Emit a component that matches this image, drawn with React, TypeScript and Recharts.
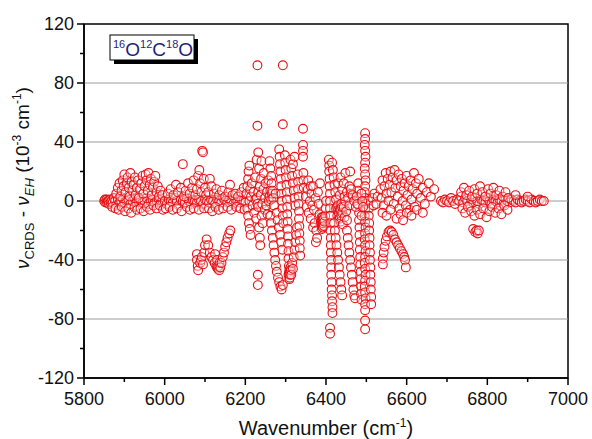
import {
  ReferenceArea,
  ReferenceLine,
  Scatter,
  ScatterChart,
  XAxis,
  YAxis,
} from "recharts";

// 16O12C18O: CRDS minus EH line positions, in 1e-3 cm-1.
// Each cluster is a list of [wavenumber, deviation] pairs.

const BAND_5850: [number, number][] = [
  [5850, 0], [5852, 1], [5853, -1], [5856, 1], [5857, -1], [5859, 0], [5861, 0], [5862, -2],
  [5865, 1], [5866, -1], [5868, 0], [5871, -1],
  [5874, 2], [5877, 0], [5880, -3], [5884, 1], [5888, -1], [5892, 0], [5896, 2], [5900, -1],
  [5905, 0], [5910, 1], [5915, -2], [5920, 0], [5925, 2], [5930, -1], [5935, 0], [5940, 1],
  [5945, -1], [5950, 0], [5955, 2], [5960, -2], [5965, 0], [5970, 1], [5975, -1], [5980, 0],
  [5985, 1], [5990, -1], [5995, 0],
  [5880, 5], [5884, 9], [5888, 12], [5890, 3], [5893, 7], [5896, 14], [5898, 10], [5900, 18],
  [5903, 6], [5906, 12], [5908, 16], [5911, 9], [5913, 3], [5915, 19], [5918, 13], [5920, 7],
  [5923, 11], [5926, 16], [5928, 4], [5931, 9], [5934, 14], [5936, 2], [5939, 8], [5942, 12],
  [5945, 17], [5947, 5], [5950, 10], [5953, 18], [5955, 14], [5958, 7], [5960, 19], [5963, 11],
  [5966, 15], [5968, 4], [5971, 9], [5974, 13], [5977, 17], [5980, 6], [5983, 10], [5986, 3],
  [5990, 7], [5994, 4],
  [5870, -4], [5878, -5], [5886, -6], [5894, -4], [5902, -7], [5910, -5], [5917, -8], [5925, -4],
  [5932, -6], [5940, -5], [5948, -7], [5956, -4], [5964, -6], [5972, -3], [5980, -5], [5988, -3],
  [5996, -6],
];

const BAND_6000: [number, number][] = [
  [6000, 0], [6005, -2], [6010, 1], [6015, 0], [6020, -1], [6025, 2], [6030, 0], [6035, -3],
  [6040, 1], [6045, 0], [6050, -1], [6055, 2], [6060, 0], [6065, -2], [6070, 1], [6075, 0],
  [6080, -1], [6085, 1], [6090, 0], [6095, -2], [6100, 1],
  [6008, 5], [6015, 8], [6022, 4], [6028, 11], [6033, 6], [6040, 9], [6045, 25], [6048, 3],
  [6052, 7], [6058, 12], [6062, 5], [6068, 9], [6072, 14], [6076, 4], [6080, 8], [6083, 17],
  [6086, 21], [6088, 12], [6091, 6], [6093, 34], [6095, 33], [6097, 15], [6100, 9], [6103, 4],
  [6003, -5], [6012, -4], [6020, -6], [6030, -5], [6042, -7], [6055, -4], [6063, -6], [6072, -5],
  [6085, -6], [6098, -5],
];

const N_SHAPE_6100: [number, number][] = [
  [6080, -36], [6080, -40], [6082, -44], [6083, -47], [6088, -42], [6090, -40], [6092, -38],
  [6095, -43], [6098, -35], [6100, -30], [6104, -26], [6108, -30], [6112, -35], [6116, -38],
  [6120, -40], [6124, -42], [6125, -36], [6128, -44], [6130, -40], [6130, -45], [6132, -46],
  [6133, -44], [6135, -47], [6136, -42], [6138, -45], [6141, -42], [6144, -38], [6147, -35],
  [6150, -31], [6153, -28], [6156, -25], [6160, -22], [6163, -20],
];

const BAND_6100: [number, number][] = [
  [6105, 0], [6110, -1], [6115, 1], [6120, 0], [6125, -2], [6130, 1], [6135, 0], [6140, -1],
  [6145, 2], [6150, 0], [6155, -1], [6160, 1], [6165, 0], [6170, -2], [6175, 1], [6180, 0],
  [6185, -1], [6190, 1], [6195, 0], [6200, -1],
  [6108, 6], [6112, 15], [6116, 10], [6122, 5], [6128, 8], [6135, 4], [6142, 7], [6150, 3],
  [6158, 6], [6162, 11], [6168, 4], [6175, 5], [6182, 3], [6190, 6], [6196, 9],
  [6110, -5], [6118, -7], [6126, -4], [6134, -6], [6145, -5], [6156, -4], [6165, -6], [6178, -4],
  [6188, -5], [6198, -6],
];

const SPREAD_6200: [number, number][] = [
  [6203, 5], [6205, 10], [6205, -5], [6207, 15], [6207, -10], [6208, 20], [6209, -15], [6210, 24],
  [6210, 0], [6211, -19], [6212, 8], [6213, -23], [6214, 3], [6216, 12], [6218, -3], [6220, 6],
  [6222, -8], [6224, 16], [6225, 1], [6227, -12], [6228, 28], [6228, 2], [6230, 92], [6230, 51],
  [6230, -2], [6231, -50], [6231, -57], [6232, 33], [6232, 6], [6232, -4], [6234, 22],
  [6234, -18], [6236, 10], [6236, -25], [6237, -30], [6238, 4], [6239, 15], [6240, -10],
  [6240, 27], [6242, -2], [6243, -15], [6245, 8], [6246, 19], [6248, -6], [6249, 2], [6250, 12],
  [6252, -3], [6254, 6], [6255, -9], [6257, 14], [6258, 0],
];

const SPREAD_6270: [number, number][] = [
  [6260, 27], [6260, 3], [6262, 22], [6262, 7], [6262, -10], [6264, 17], [6264, 1], [6264, -15],
  [6265, 12], [6266, 5], [6266, -20], [6267, 7], [6268, -25], [6269, 2], [6270, -30],
  [6271, -3], [6272, -35], [6274, -40], [6275, 5], [6276, -44], [6278, -8], [6278, -48],
  [6280, -13], [6281, -52], [6283, -18], [6284, -55], [6286, -23], [6287, -58], [6289, -28],
  [6290, -60], [6292, -33], [6293, -57],
  [6284, 35], [6285, 30], [6286, 25], [6287, 20], [6288, 15], [6289, 10], [6290, 5], [6291, 0],
  [6292, -5], [6293, -10], [6294, -15], [6293, 92], [6293, 52],
  [6298, 31], [6299, 26], [6300, 21], [6301, 16], [6302, 11], [6303, 6], [6303, 1], [6304, -4],
  [6304, -9], [6305, -14], [6305, -19], [6306, -24], [6306, -29], [6307, -34], [6307, -39],
  [6307, -50], [6308, -44], [6308, -49], [6309, -53], [6309, -47], [6310, -48], [6310, -52],
  [6311, -50], [6312, -45], [6313, -47], [6314, -50], [6316, -42], [6318, -46], [6320, -38],
  [6322, -33], [6324, -28], [6326, -23], [6328, -18],
  [6312, 28], [6314, 22], [6316, 17], [6318, 12], [6320, 7], [6322, 2], [6324, -3], [6318, 25],
  [6322, 30],
  [6330, 18], [6331, 13], [6331, 8], [6332, 3], [6332, -2], [6333, -7], [6333, -12], [6334, -17],
  [6334, -22], [6335, -27], [6335, -32], [6336, -37],
  [6343, 49], [6343, 38], [6343, 34], [6343, 30], [6344, 19], [6344, 14], [6345, 9],
];

const CLUSTER_6380: [number, number][] = [
  [6350, 3], [6352, -4], [6355, 8], [6356, 14], [6357, -8], [6360, 0], [6362, -12], [6362, 10],
  [6364, 5], [6366, -3], [6368, 10], [6368, -18], [6370, -6], [6372, -15], [6374, 2], [6375, -28],
  [6376, -20], [6378, -25], [6380, 6], [6382, -2], [6384, -9], [6385, 12], [6387, -14],
  [6389, -11], [6389, -15], [6390, -16], [6390, -19], [6391, -13], [6391, -17], [6392, -18],
  [6392, -11], [6393, -15], [6393, -13], [6394, -12], [6395, -17], [6396, -14], [6398, -10],
  [6399, -5], [6400, 0],
];

const LINES_6410: [number, number][] = [
  [6407, 28], [6408, 24], [6408, 20], [6409, 15], [6409, 10], [6410, 5], [6410, 0], [6410, -5],
  [6411, -10], [6411, -15], [6411, -20], [6412, -25], [6412, -30], [6412, -35], [6413, -40],
  [6413, -45], [6413, -50], [6414, -55], [6414, -60], [6415, -64], [6415, -68], [6416, -72],
  [6416, -76], [6410, -86], [6410, -90],
  [6415, 26], [6417, 21], [6419, 16], [6421, 11], [6423, 6], [6425, 1], [6427, -4],
  [6425, -5], [6428, -10], [6430, -3], [6430, -6], [6432, -12], [6432, -8], [6434, -6],
  [6434, -12], [6436, -14], [6436, -6], [6438, -2], [6438, -10], [6440, -8], [6440, -4],
  [6442, -16], [6444, -4], [6446, -11], [6448, 0], [6450, -7], [6452, -13],
  [6434, 4], [6440, 8], [6446, 3], [6452, 6], [6430, 12], [6436, 16], [6444, 12], [6448, 19],
  [6455, 2], [6458, -3], [6460, 20], [6458, 10], [6462, 5],
  [6420, -15], [6422, -20], [6424, -25], [6426, -30], [6428, -35], [6430, -40], [6432, -45],
  [6434, -50], [6436, -55], [6438, -60], [6440, -64],
  [6452, -20], [6454, -25], [6456, -30], [6458, -35], [6460, -40], [6462, -45], [6464, -50],
  [6466, -55], [6468, -60], [6470, -64], [6472, -66],
];

const LINES_6490: [number, number][] = [
  [6480, 12], [6480, 7], [6481, 2], [6481, -3], [6482, -8], [6482, -13], [6483, -18], [6483, -23],
  [6484, -28], [6484, -33], [6485, -38], [6485, -43], [6486, -48], [6486, -53], [6487, -58],
  [6487, -63], [6488, -67],
  [6497, 46], [6497, 42], [6496, 38], [6497, 34], [6498, 30], [6497, 26], [6496, 22], [6497, 18],
  [6498, 14], [6497, 10], [6496, 6], [6497, 2], [6498, -2], [6497, -6], [6496, -10], [6497, -14],
  [6498, -18], [6497, -22], [6496, -26], [6497, -30], [6498, -34], [6497, -38], [6496, -42],
  [6497, -46], [6498, -50], [6497, -54], [6496, -58], [6497, -62], [6498, -66], [6497, -70],
  [6497, -74], [6497, -81], [6497, -87],
  [6505, 0], [6506, -5], [6506, -10], [6507, -15], [6507, -20], [6508, -25], [6508, -30],
  [6509, -35], [6509, -40], [6510, -45], [6510, -50], [6511, -55], [6511, -60], [6512, -65],
  [6512, -70],
  [6462, 8], [6466, 4], [6470, 0], [6474, -4], [6476, 3], [6478, -2], [6488, 5], [6490, 0],
  [6492, -4], [6488, -10],
  [6515, 2], [6518, -3], [6520, 5], [6525, -2], [6528, 3],
];

const CLUSTER_6590: [number, number][] = [
  [6535, 8], [6538, 2], [6540, 14], [6543, -3], [6545, 10], [6548, 19], [6550, 5], [6553, 15],
  [6555, 0], [6558, 11], [6560, 20], [6562, 6], [6565, 16], [6568, -2], [6570, 21], [6572, 9],
  [6575, 14], [6578, 3], [6580, 18], [6582, -5], [6585, 10], [6588, 15], [6590, 0], [6592, 7],
  [6595, 12], [6598, -3], [6600, 17], [6602, 4], [6605, 10], [6608, -6], [6610, 14], [6612, 1],
  [6615, 8], [6618, 19], [6620, -4], [6623, 12], [6626, 5], [6630, 15], [6635, 2], [6640, 9],
  [6645, -2], [6650, 6], [6655, 12], [6660, 3], [6668, 8],
  [6540, -8], [6550, -10], [6560, -6], [6575, -12], [6585, -9], [6591, -13], [6600, -8],
  [6612, -10], [6625, -6], [6640, -8],
  [6541, -39], [6541, -43], [6543, -35], [6545, -31], [6548, -27], [6551, -24], [6555, -21],
  [6559, -20], [6563, -21], [6567, -23], [6571, -26], [6575, -28], [6579, -30], [6583, -32],
  [6587, -34], [6591, -36], [6594, -38], [6596, -40], [6598, -45],
];

const BAND_6800: [number, number][] = [
  [6685, 0], [6690, -1], [6695, 1], [6700, 0], [6705, -1], [6710, 2], [6715, 0], [6720, -2],
  [6725, 1], [6730, 0], [6735, 3], [6740, -1], [6745, 2], [6750, 0], [6755, -3], [6760, 1],
  [6765, -1], [6770, 2], [6775, 0], [6780, -2], [6785, 1], [6790, 0], [6795, -1], [6800, 2],
  [6805, 0], [6810, -2], [6815, 1], [6820, 0], [6825, -1], [6830, 1], [6835, 0], [6840, -2],
  [6845, 1], [6850, 0], [6855, -1], [6860, 1], [6865, 0], [6870, -1], [6875, 1], [6880, 0],
  [6885, -1], [6890, 0], [6895, 1], [6900, 0], [6905, -1], [6910, 1], [6915, 0], [6920, -1],
  [6925, 0], [6930, 1], [6935, 0], [6940, 0],
  [6735, 6], [6742, 9], [6748, 4], [6755, 7], [6762, 3], [6768, 8], [6775, 5], [6782, 10],
  [6788, 6], [6795, 3], [6802, 8], [6808, 5], [6815, 9], [6822, 4], [6830, 7], [6838, 3],
  [6845, 6], [6852, 2], [6870, 4], [6900, 3],
  [6738, -5], [6745, -8], [6752, -4], [6760, -7], [6768, -10], [6775, -6], [6782, -9],
  [6790, -5], [6798, -11], [6805, -7], [6812, -4], [6820, -8], [6828, -5], [6835, -9],
  [6842, -3], [6850, -6],
  [6765, -19], [6770, -21], [6773, -20], [6776, -22], [6779, -20],
];

const X_TICKS = [5800, 5900, 6000, 6100, 6200, 6300, 6400, 6500, 6600, 6700, 6800, 6900, 7000];
const Y_TICKS = [-120, -100, -80, -60, -40, -20, 0, 20, 40, 60, 80, 100, 120];
const GRID_VALUES = [80, 40, 0, -40, -80];

const data = [
  ...BAND_5850,
  ...BAND_6000,
  ...N_SHAPE_6100,
  ...BAND_6100,
  ...SPREAD_6200,
  ...SPREAD_6270,
  ...CLUSTER_6380,
  ...LINES_6410,
  ...LINES_6490,
  ...CLUSTER_6590,
  ...BAND_6800,
].map(([wn, dev]) => ({ wn, dev }));

const FONT = "Liberation Sans, Arial, sans-serif";
const RED = "#e60f14";

function XTick({ x, y, payload }: any) {
  const v = payload.value;
  const major = v % 200 === 0;
  return (
    <g>
      <line x1={x} x2={x} y1={y} y2={y + (major ? 7 : 4)} stroke="#000" strokeWidth={1.5} />
      {major && (
        <text x={x} y={y + 27} textAnchor="middle" fontSize={18} fontFamily={FONT} fill="#111">
          {v}
        </text>
      )}
    </g>
  );
}

function YTick({ x, y, payload }: any) {
  const v = payload.value;
  const major = v % 40 === 0;
  return (
    <g>
      <line x1={x} x2={x - (major ? 7 : 4)} y1={y} y2={y} stroke="#000" strokeWidth={1.5} />
      {major && (
        <text x={x - 10} y={y} dy="0.35em" textAnchor="end" fontSize={18} fontFamily={FONT} fill="#111">
          {v}
        </text>
      )}
    </g>
  );
}

export default function App() {
  return (
    <div style={{ position: "absolute", left: 0, top: 0, width: 592, height: 439, background: "#fff" }}>
      <ScatterChart
        width={592}
        height={439}
        margin={{ top: 24, right: 24, bottom: 31, left: 24 }}
      >
        {GRID_VALUES.map((v) => (
          <ReferenceLine key={v} y={v} stroke="#9a9a9a" strokeWidth={1} />
        ))}
        <XAxis
          type="number"
          dataKey="wn"
          domain={[5800, 7000]}
          ticks={X_TICKS}
          interval={0}
          height={30}
          tickSize={0}
          tickMargin={0}
          tickLine={false}
          tick={<XTick />}
          axisLine={{ stroke: "#000", strokeWidth: 1.5 }}
          allowDataOverflow
        />
        <YAxis
          type="number"
          dataKey="dev"
          domain={[-120, 120]}
          ticks={Y_TICKS}
          interval={0}
          width={60}
          tickSize={0}
          tickMargin={0}
          tickLine={false}
          tick={<YTick />}
          axisLine={{ stroke: "#000", strokeWidth: 1.5 }}
          allowDataOverflow
        />
        <Scatter
          data={data}
          isAnimationActive={false}
          shape={(p: any) => (
            <circle
              cx={p.cx}
              cy={p.cy}
              r={4.4}
              fill="#fff"
              fillOpacity={0.35}
              stroke={RED}
              strokeWidth={1.1}
            />
          )}
        />
        <ReferenceArea
          x1={5800}
          x2={7000}
          y1={-120}
          y2={120}
          fill="none"
          fillOpacity={0}
          stroke="#000"
          strokeWidth={1.5}
        />
      </ScatterChart>
      <svg
        width={592}
        height={439}
        style={{ position: "absolute", left: 0, top: 0, pointerEvents: "none" }}
      >
        {/* isotopologue label box with drop shadow */}
        <rect x={114} y={39} width={84} height={25} fill="#000" />
        <rect x={110} y={35} width={84} height={25} fill="#fff" stroke="#000" strokeWidth={1} />
        <text x={113} y={56} fontSize={19} fontFamily={FONT} fill="#1f1f78">
          <tspan fontSize={11} dy={-8}>16</tspan>
          <tspan dy={8}>O</tspan>
          <tspan fontSize={11} dy={-8}>12</tspan>
          <tspan dy={8}>C</tspan>
          <tspan fontSize={11} dy={-8}>18</tspan>
          <tspan dy={8}>O</tspan>
        </text>
        <text x={326} y={435} textAnchor="middle" fontSize={20} fontFamily={FONT} fill="#111">
          Wavenumber (cm
          <tspan fontSize={12} dy={-8}>-1</tspan>
          <tspan dy={8}>)</tspan>
        </text>
        <text
          transform="translate(29,178) rotate(-90)"
          textAnchor="middle"
          fontSize={19}
          fontFamily={FONT}
          fill="#111"
        >
          <tspan fontStyle="italic">ν</tspan>
          <tspan fontSize={13} dy={5}>CRDS</tspan>
          <tspan dy={-5}> - </tspan>
          <tspan fontStyle="italic">ν</tspan>
          <tspan fontSize={13} dy={5} fontStyle="italic">EH</tspan>
          <tspan dy={-5}> (10</tspan>
          <tspan fontSize={12} dy={-8}>-3</tspan>
          <tspan dy={8}> cm</tspan>
          <tspan fontSize={12} dy={-8}>-1</tspan>
          <tspan dy={8}>)</tspan>
        </text>
      </svg>
    </div>
  );
}
